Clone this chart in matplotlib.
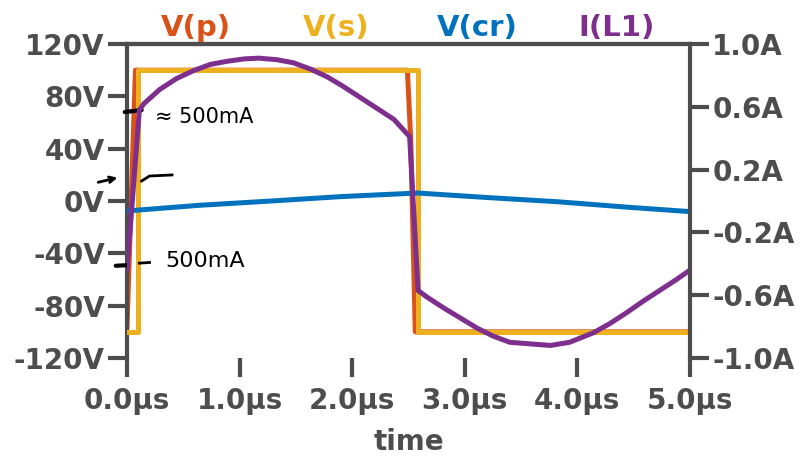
import matplotlib.pyplot as plt

# time in microseconds
t_vp = [0.0, 0.075, 2.49, 2.52, 2.56, 5.0]
v_p = [-96, 100, 100, 47, -100, -100]

t_vs = [0.0, 0.10, 0.10, 2.585, 2.585, 5.0]
v_s = [-100, -100, 100, 100, -100, -100]

t_vcr = [0.0, 0.64, 1.28, 1.91, 2.58, 3.19, 3.83, 4.47, 5.0]
v_cr = [-7.6, -3.3, 0.0, 3.4, 6.1, 2.7, -0.6, -4.9, -8.1]

t_il = [0.0, 0.11, 0.15, 0.29, 0.44, 0.59, 0.74, 0.89, 1.04, 1.17, 1.33,
        1.48, 1.63, 1.78, 1.92, 2.07, 2.22, 2.37, 2.51,
        2.585, 2.66, 2.81, 2.96, 3.11, 3.25, 3.40, 3.58, 3.76, 3.93,
        4.14, 4.29, 4.44, 4.58, 4.73, 4.88, 5.0]
i_l1 = [-0.44, 0.58, 0.62, 0.71, 0.78, 0.83, 0.87, 0.89, 0.905, 0.91, 0.90,
        0.88, 0.84, 0.79, 0.73, 0.66, 0.59, 0.52, 0.41,
        -0.57, -0.61, -0.68, -0.745, -0.81, -0.86, -0.90, -0.91, -0.92, -0.90,
        -0.84, -0.78, -0.71, -0.64, -0.57, -0.50, -0.44]

x_ticks = [0, 1, 2, 3, 4, 5]
x_labels = ['0.0µs', '1.0µs', '2.0µs', '3.0µs', '4.0µs', '5.0µs']
v_ticks = [-120, -80, -40, 0, 40, 80, 120]
v_labels = ['-120V', '-80V', '-40V', '0V', '40V', '80V', '120V']
i_ticks = [-1.0, -0.6, -0.2, 0.2, 0.6, 1.0]
i_labels = ['-1.0A', '-0.6A', '-0.2A', '0.2A', '0.6A', '1.0A']

names = ['V(p)', 'V(s)', 'V(cr)', 'I(L1)']
colors = ['#d95319', '#edb120', '#0072bd', '#7e2f8e']

gray = '#4d4d4d'
lw = 3.6

fig = plt.figure(figsize=(8.05, 4.59), dpi=100)
ax = fig.add_axes([127/805, 1-358/459, 563/805, 314/459])
ax2 = ax.twinx()

ax.plot(t_vp, v_p, color=colors[0], lw=lw, zorder=2)
ax.plot(t_vs, v_s, color=colors[1], lw=lw, zorder=3)
ax.plot(t_vcr, v_cr, color=colors[2], lw=lw, zorder=4)
ax2.plot(t_il, i_l1, color=colors[3], lw=lw)

ax.set_xlim(0, 5)
ax.set_ylim(-120, 120)
ax2.set_ylim(-1, 1)

ax.set_xticks(x_ticks)
ax.set_xticklabels(x_labels)
ax.set_yticks(v_ticks)
ax.set_yticklabels(v_labels)
ax2.set_yticks(i_ticks)
ax2.set_yticklabels(i_labels)

for a in (ax, ax2):
    for s in a.spines.values():
        s.set_color(gray)
        s.set_linewidth(3)
    a.spines['bottom'].set_visible(False)
    a.tick_params(length=14, width=3, color=gray, labelcolor=gray,
                  labelsize=20, pad=2)
    for lab in a.get_xticklabels() + a.get_yticklabels():
        lab.set_fontweight('bold')
ax2.spines['left'].set_visible(False)
ax.spines['right'].set_visible(False)
ax.tick_params(axis='x', pad=7)

ax.set_xlabel('time', fontsize=20, fontweight='bold', color=gray, labelpad=9)

# series names across the top
xs = [196/805, 336/805, 477/805, 617/805]
for x, n, c in zip(xs, names, colors):
    fig.text(x, 1-36/459, n, color=c, fontsize=21, fontweight='bold',
             ha='center', va='baseline')

# hand-drawn notes
k = dict(color='black', lw=3, solid_capstyle='round', clip_on=False, zorder=10)
ax.plot([-0.02, 0.13], [68, 69.5], **k)
ax.plot([-0.10, 0.01], [-49.5, -49], **k)
ax.plot([0.11, 0.20], [-47.5, -47], color='black', lw=2, clip_on=False, zorder=10)
ax.plot([0.13, 0.2, 0.4], [15.3, 19.1, 19.9], color='black', lw=2,
        clip_on=False, zorder=10)
ax.annotate('', xy=(-0.06, 18.3), xytext=(-0.28, 13.8),
            arrowprops=dict(arrowstyle='->', color='black', lw=2),
            annotation_clip=False)
ax.text(0.25, 64, '≈ 500mA', fontsize=15, color='black', va='center', zorder=10)
ax.text(0.34, -46, '500mA', fontsize=16, color='black', va='center', zorder=10)

fig.savefig('out.png', dpi=100)
